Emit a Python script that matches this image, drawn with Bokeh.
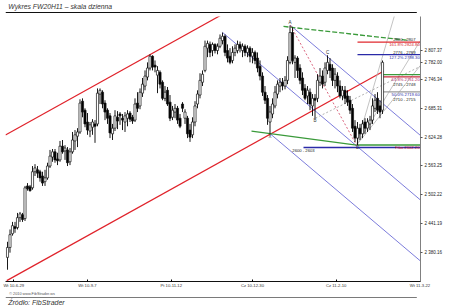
from bokeh.plotting import figure
from bokeh.layouts import column
from bokeh.models import Range1d, FixedTicker, ColumnDataSource
from bokeh.embed import file_html
from bokeh.resources import INLINE
from bokeh.core.properties import value

FONT = "Liberation Sans"

# ---------------- data (FW20H11 daily candles) ----------------
opens = [2370, 2391, 2420, 2435, 2433, 2454, 2460, 2452, 2521, 2519,
         2517, 2551, 2555, 2551, 2542, 2530, 2538, 2563, 2582, 2593,
         2578, 2576, 2605, 2595, 2597, 2572, 2593, 2616, 2626, 2635,
         2700, 2681, 2656, 2637, 2645, 2652, 2652, 2715, 2719, 2696,
         2681, 2669, 2631, 2643, 2666, 2673, 2664, 2656, 2664, 2675,
         2666, 2660, 2696, 2690, 2717, 2732, 2751, 2770, 2795, 2776,
         2755, 2761, 2740, 2706, 2723, 2698, 2666, 2677, 2685, 2664,
         2694, 2664, 2664, 2639, 2629, 2656, 2694, 2713, 2740, 2765,
         2812, 2820, 2807, 2820, 2807, 2816, 2828, 2837, 2807, 2795,
         2786, 2803, 2807, 2820, 2807, 2816, 2803, 2812, 2795, 2803,
         2791, 2774, 2753, 2719, 2706, 2656, 2673, 2690, 2715, 2732,
         2740, 2732, 2744, 2782, 2845, 2782, 2791, 2770, 2749, 2727,
         2711, 2719, 2690, 2706, 2706, 2740, 2753, 2740, 2765, 2778,
         2770, 2744, 2753, 2732, 2711, 2723, 2711, 2702, 2685, 2647,
         2622, 2643, 2631, 2656, 2643, 2652, 2660, 2685, 2706, 2690,
         2681]
closes = [2391, 2418, 2437, 2431, 2454, 2462, 2450, 2517, 2515, 2511,
          2551, 2559, 2548, 2538, 2527, 2538, 2563, 2584, 2593, 2576,
          2574, 2605, 2593, 2601, 2570, 2593, 2618, 2629, 2635, 2696,
          2677, 2652, 2639, 2650, 2656, 2647, 2717, 2723, 2694, 2677,
          2664, 2633, 2643, 2669, 2658, 2669, 2660, 2669, 2673, 2662,
          2658, 2694, 2685, 2719, 2736, 2753, 2770, 2795, 2772, 2772,
          2765, 2736, 2706, 2719, 2694, 2664, 2681, 2685, 2660, 2647,
          2685, 2677, 2631, 2624, 2656, 2690, 2715, 2744, 2757, 2816,
          2822, 2803, 2820, 2807, 2816, 2833, 2837, 2803, 2791, 2782,
          2803, 2812, 2820, 2812, 2816, 2803, 2812, 2795, 2803, 2786,
          2770, 2753, 2719, 2702, 2664, 2677, 2694, 2719, 2736, 2740,
          2732, 2744, 2786, 2845, 2786, 2791, 2765, 2744, 2723, 2706,
          2723, 2694, 2706, 2702, 2744, 2753, 2736, 2770, 2782, 2765,
          2744, 2757, 2732, 2711, 2723, 2706, 2698, 2681, 2643, 2622,
          2643, 2631, 2652, 2643, 2656, 2660, 2690, 2702, 2681, 2677,
          2782]
highs = [2403, 2429, 2445, 2445, 2464, 2466, 2464, 2521, 2527, 2523,
         2563, 2567, 2563, 2555, 2551, 2555, 2570, 2597, 2599, 2599,
         2591, 2616, 2618, 2607, 2603, 2601, 2635, 2639, 2643, 2704,
         2706, 2685, 2675, 2656, 2662, 2660, 2727, 2727, 2723, 2702,
         2685, 2675, 2652, 2681, 2679, 2677, 2673, 2677, 2681, 2679,
         2671, 2706, 2719, 2727, 2749, 2765, 2782, 2799, 2797, 2786,
         2774, 2765, 2744, 2732, 2730, 2713, 2690, 2694, 2690, 2673,
         2698, 2683, 2669, 2652, 2666, 2700, 2723, 2759, 2765, 2828,
         2828, 2826, 2824, 2822, 2822, 2841, 2845, 2841, 2820, 2812,
         2816, 2820, 2828, 2826, 2822, 2820, 2818, 2816, 2812, 2807,
         2803, 2786, 2761, 2732, 2713, 2690, 2706, 2732, 2744, 2749,
         2749, 2753, 2795, 2860, 2856, 2797, 2795, 2778, 2761, 2736,
         2732, 2727, 2715, 2715, 2757, 2770, 2765, 2782, 2797, 2791,
         2778, 2770, 2761, 2744, 2732, 2732, 2723, 2711, 2694, 2660,
         2656, 2652, 2660, 2664, 2664, 2669, 2706, 2715, 2719, 2702,
         2786]
lows = [2344, 2380, 2416, 2422, 2429, 2445, 2445, 2447, 2511, 2509,
        2513, 2542, 2538, 2530, 2521, 2521, 2534, 2559, 2572, 2570,
        2565, 2572, 2589, 2576, 2563, 2565, 2589, 2597, 2603, 2631,
        2666, 2645, 2629, 2624, 2629, 2612, 2647, 2694, 2685, 2660,
        2652, 2622, 2618, 2637, 2641, 2650, 2639, 2635, 2647, 2656,
        2652, 2656, 2677, 2683, 2709, 2723, 2744, 2765, 2765, 2761,
        2717, 2727, 2702, 2700, 2690, 2658, 2660, 2664, 2652, 2643,
        2677, 2652, 2622, 2614, 2622, 2647, 2685, 2706, 2732, 2761,
        2793, 2793, 2795, 2801, 2799, 2812, 2820, 2795, 2782, 2778,
        2780, 2795, 2801, 2803, 2793, 2795, 2793, 2782, 2780, 2778,
        2761, 2744, 2711, 2694, 2650, 2631, 2664, 2685, 2706, 2719,
        2723, 2725, 2736, 2778, 2778, 2749, 2749, 2736, 2713, 2702,
        2694, 2681, 2669, 2664, 2698, 2732, 2727, 2732, 2757, 2749,
        2732, 2727, 2719, 2706, 2702, 2694, 2690, 2673, 2635, 2614,
        2607, 2618, 2622, 2631, 2635, 2639, 2652, 2677, 2673, 2664,
        2673]

x_tick_bars = [2.5, 32, 65.5, 98, 131.5, 165]
x_tick_labels = ["Wt 10-6-29", "Wt 10-9-7", "Pt 10-11-12", "Cz 10-12-30", "Cz 11-2-10", "Wt 11-3-22"]
y_ticks = [2807.37, 2746.34, 2685.31, 2624.28, 2563.25, 2502.22, 2441.19, 2380.16]
y_tick_labels = ["2 807.37", "2 746.34", "2 685.31", "2 624.28", "2 563.25", "2 502.22", "2 441.19", "2 380.16"]

# trend lines: (bar, price) end points
channel_upper_bars = [-0.8, 86.0]
channel_upper_prices = [2628.7, 2883.5]
channel_lower_bars = [-0.3, 150.4]
channel_lower_prices = [2321.0, 2763.2]
fork_bars = [[86.0, 165.2], [113.2, 165.2], [105.2, 165.2]]
fork_prices = [[2845.3, 2491.1], [2860.0, 2627.5], [2630.6, 2362.3]]
green_upper_bars = [110.4, 160.4]
green_upper_prices = [2857.9, 2828.4]
green_lower_bars = [97.6, 139.6]
green_lower_prices = [2636.9, 2607.4]
ad_bars = [113.2, 139.6]
ad_prices = [2860.0, 2607.4]
fan_end_bars = [154.8, 165.2, 165.2]
fan_end_prices = [2881.0, 2828.4, 2775.8]
b_line_bars = [123.2, 165.2]
b_line_prices = [2664.3, 2773.7]

# fibonacci levels on the right
level_prices = [2824.8, 2798.3, 2756.2, 2751.2, 2719.6, 2607.4, 2602.2]
level_start_bars = [140, 140, 150, 150, 150, 140, 118.4]
level_names = ["161.8% 2824.80", "127.2% 2798.30", "", "61.8% 2751.20", "50.0% 2719.60", "", "Fibo 2602.20"]
zone_names = ["2800 - 2807", "2776 - 2789", "", "2745 - 2748", "2710 - 2715", "", "2600 - 2603"]

pivot_names = ["X", "A", "B", "C", "D"]
pivot_bars = [105, 113, 123, 128, 140]
pivot_kind = ["low", "high", "low", "high", "low"]

# ---------------- styles ----------------
RED = "#e0232b"
BLUE = "#5a5ad2"
GREEN = "#3a9a3a"
level_colors = ["#e0282e", "#2a2aa8", GREEN, "#c8283c", "#9a9a9a", GREEN, "#2a2aa8"]
label_colors = ["#d0202a", "#2a2aa8", GREEN, "#b02060", "#2a2aa8", GREEN, "#d0202a"]

X0, X1 = -0.8, 165.2

p = figure(width=450, height=276, x_range=Range1d(X0, X1), y_range=Range1d(2319.1, 2878.9),
           output_backend="svg", toolbar_location=None, y_axis_location="right",
           min_border_left=5, min_border_right=30, min_border_top=2, min_border_bottom=8)
p.outline_line_color = None
p.grid.visible = False
p.background_fill_color = "white"
p.border_fill_color = "white"

# channel
p.line(channel_upper_bars, channel_upper_prices, line_color=RED, line_width=1.2)
p.line(channel_lower_bars, channel_lower_prices, line_color=RED, line_width=1.2)

# fork lines
for bx, py in zip(fork_bars, fork_prices):
    p.line(bx, py, line_color=BLUE, line_width=0.8)

# grey fan from D
d_bar = pivot_bars[4]
d_price = lows[d_bar]
for eb, ep in zip(fan_end_bars, fan_end_prices):
    p.line([d_bar - 0.4, eb], [d_price, ep], line_color="#b4b4b4", line_width=0.8)
p.line(b_line_bars, b_line_prices, line_color="#a0a0a0", line_width=0.8, line_dash="2 2")

# green lines
p.line(green_upper_bars, green_upper_prices, line_color=GREEN, line_width=1.3, line_dash="5 2")
p.line(green_lower_bars, green_lower_prices, line_color=GREEN, line_width=1.3)

# A-D dotted
p.line(ad_bars, ad_prices, line_color="#d04060", line_width=0.8, line_dash="2 2")

# levels
for lp, ls, lc in zip(level_prices, level_start_bars, level_colors):
    p.segment(x0=[ls], y0=[lp], x1=[X1], y1=[lp], line_color=lc, line_width=1.3)

# candles
tops = [max(o, c) for o, c in zip(opens, closes)]
bottoms = [min(o, c) for o, c in zip(opens, closes)]
fills = ["white" if c >= o else "black" for o, c in zip(opens, closes)]
bars = list(range(len(opens)))
src = ColumnDataSource(dict(x=bars, high=highs, low=lows, top=tops, bottom=bottoms, fill=fills))
p.segment(x0="x", y0="high", x1="x", y1="low", source=src, line_color="#000000", line_width=0.9)
p.vbar(x="x", width=0.85, top="top", bottom="bottom", source=src, fill_color="fill",
       line_color="#111111", line_width=0.7)

# level labels
for i, (lp, name, zone, col) in enumerate(zip(level_prices, level_names, zone_names, label_colors)):
    if name:
        base = "middle" if i == 6 else "top"
        p.text(x=[X1 - 0.3], y=[lp], text=[name], text_align="right", text_baseline=base,
               text_font=value(FONT), text_font_size=value("4.2px"), text_color=col)
    if zone:
        if i in (0, 1):
            p.text(x=[X1 - 2], y=[lp], text=[zone], text_align="right", text_baseline="bottom",
                   text_font=value(FONT), text_font_size=value("4.2px"), text_color="#222222")
        elif i == 6:
            p.text(x=[level_start_bars[i]], y=[lp], text=[zone], text_align="center", text_baseline="top",
                   y_offset=1, text_font=value(FONT), text_font_size=value("4.2px"), text_color="#222222")
        else:
            p.text(x=[X1 - 2], y=[lp], text=[zone], text_align="right", text_baseline="top",
                   y_offset=5, text_font=value(FONT), text_font_size=value("4.2px"), text_color="#222222")

# pivot letters
for nm, b, k in zip(pivot_names, pivot_bars, pivot_kind):
    yv = highs[b] if k == "high" else lows[b]
    p.text(x=[b], y=[yv], text=[nm], text_align="center",
           text_baseline="bottom" if k == "high" else "top",
           text_font=value(FONT), text_font_size=value("4.5px"), text_color="#333333")

# axes
xa = p.xaxis[0]
xa.ticker = FixedTicker(ticks=x_tick_bars)
xa.major_label_overrides = {t: l for t, l in zip(x_tick_bars, x_tick_labels)}
xa.major_label_text_font = FONT
xa.major_label_text_font_size = "4.2px"
xa.major_label_text_color = "#333333"
xa.major_label_standoff = 1
xa.major_tick_in = 2
xa.major_tick_out = 0
xa.minor_tick_line_color = None
xa.axis_line_color = "#111111"
xa.axis_line_width = 1.2

last_price = closes[-1]
ya = p.yaxis[0]
ya.ticker = FixedTicker(ticks=y_ticks + [last_price])
overrides = {t: l for t, l in zip(y_ticks, y_tick_labels)}
overrides[last_price] = f"{last_price:,.2f}".replace(",", " ")
ya.major_label_overrides = overrides
ya.major_label_text_font = FONT
ya.major_label_text_font_size = "4.5px"
ya.major_label_text_color = "#222222"
ya.major_label_standoff = 2
ya.major_tick_in = 0
ya.major_tick_out = 2
ya.minor_tick_line_color = None
ya.axis_line_color = "#808080"
ya.major_tick_line_color = "#555555"

# header
t = figure(width=450, height=14, x_range=Range1d(0, 450), y_range=Range1d(0, 14),
           output_backend="svg", toolbar_location=None, min_border=0)
t.axis.visible = False
t.grid.visible = False
t.outline_line_color = None
t.text(x=[3], y=[8], text=["Wykres FW20H11 – skala dzienna"], text_baseline="middle",
       text_font=value(FONT), text_font_size=value("6.8px"), text_font_style="italic",
       text_color="#333333")
t.line([0, 446], [2, 2], line_color="#111111", line_width=1.2)

# footer
f = figure(width=450, height=16, x_range=Range1d(0, 450), y_range=Range1d(0, 16),
           output_backend="svg", toolbar_location=None, min_border=0)
f.axis.visible = False
f.grid.visible = False
f.outline_line_color = None
f.text(x=[4], y=[13], text=["© 2010 www.FibStrader.ws"], text_baseline="middle",
       text_font=value(FONT), text_font_size=value("3.8px"), text_color="#555555")
f.line([0, 446], [9, 9], line_color="#7a7a7a", line_width=1.2)
f.text(x=[3], y=[4.5], text=["Źródło: FibStrader"], text_baseline="middle",
       text_font=value(FONT), text_font_size=value("7px"), text_font_style="italic",
       text_color="#333333")

layout = column(t, p, f, spacing=0)
open("out.html", "w").write(file_html(layout, INLINE))
